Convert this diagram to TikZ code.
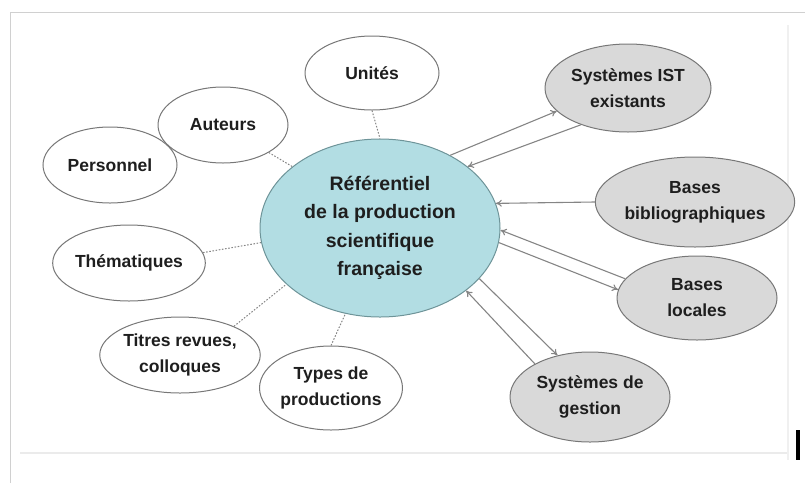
\documentclass[tikz,border=0pt]{standalone}
\usepackage{fontspec}
\setmainfont{Liberation Sans}
\usetikzlibrary{arrows.meta,shapes.geometric}
\definecolor{refblue}{HTML}{B2DDE3}
\definecolor{refedge}{HTML}{6E9499}
\definecolor{sysgray}{HTML}{D9D9D9}
\definecolor{edgegray}{HTML}{777777}
\definecolor{linkgray}{HTML}{858585}
\definecolor{txt}{HTML}{1E1E1E}
\definecolor{framegray}{HTML}{D0D0D0}
\tikzset{
  bubble/.style={ellipse, draw=edgegray, line width=1pt, fill=white, inner sep=0pt,
    align=center, text=txt, font=\fontsize{17.5}{26}\selectfont\bfseries},
  sysbubble/.style={bubble, fill=sysgray},
  hub/.style={bubble, fill=refblue, draw=refedge, font=\fontsize{19.5}{28.5}\selectfont\bfseries},
  dotlink/.style={draw=linkgray, line width=1pt, dash pattern=on 1.6pt off 1.6pt},
  flow/.style={draw=linkgray, line width=1.1pt, -{To[length=6pt,width=7pt]}},
}
\begin{document}
\begin{tikzpicture}[x=1pt,y=-1pt]
  \useasboundingbox (0,0) rectangle (805,483);
  % page frame
  \draw[framegray, line width=1pt] (10,483) -- (10,12) -- (805,12);
  \draw[black!8, line width=2pt] (20,453) -- (788,453);
  \draw[black!6, line width=1.5pt] (788,25) -- (788,460);
  \fill[black] (796,430) rectangle (800,460);

  % hub
  \node[hub, minimum width=240pt, minimum height=178pt] (ref) at (380,228)
    {Référentiel\\de la production\\scientifique\\française};

  % descriptive facets
  \node[bubble, minimum width=134pt, minimum height=74pt] (unites) at (372,73) {Unités};
  \node[bubble, minimum width=134pt, minimum height=76pt] (pers) at (110,165) {Personnel};
  \node[bubble, minimum width=130pt, minimum height=76pt] (aut) at (223,125) {Auteurs};
  \node[bubble, minimum width=132pt, minimum height=76pt] (them) at (129,263) {Thématiques};
  \node[bubble, minimum width=134pt, minimum height=76pt] (titres) at (180,355) {Titres revues,\\colloques};
  \node[bubble, minimum width=132pt, minimum height=84pt] (types) at (331,388) {Types de\\productions};

  % connected systems
  \node[sysbubble, minimum width=166pt, minimum height=88pt] (ist) at (628,88) {Systèmes IST\\existants};
  \node[sysbubble, minimum width=164pt, minimum height=90pt] (biblio) at (695,202) {Bases\\bibliographiques};
  \node[sysbubble, minimum width=160pt, minimum height=84pt] (loc) at (697,298) {Bases\\locales};
  \node[sysbubble, minimum width=160pt, minimum height=90pt] (gest) at (590,397) {Systèmes de\\gestion};

  % dotted facet links
  \draw[dotlink] (unites.south) -- (ref.north);
  \draw[dotlink] (aut.-31) -- (ref.145);
  \draw[dotlink] (them.8) -- (ref.187);
  \draw[dotlink] (titres.28) -- (ref.211);
  \draw[dotlink] (types.90) -- (ref.248);

  % exchanges with systems
  \draw[flow] (ref.46) -- (ist.198);
  \draw[flow] (ist.218) -- (ref.35);
  \draw[flow] (biblio.west) -- (ref.12.7);
  \draw[flow] (loc.165) -- (ref.-1);
  \draw[flow] (ref.-7) -- (loc.174);
  \draw[flow] (ref.-27.5) -- (gest.128);
  \draw[flow] (gest.149) -- (ref.-36);
\end{tikzpicture}
\end{document}
